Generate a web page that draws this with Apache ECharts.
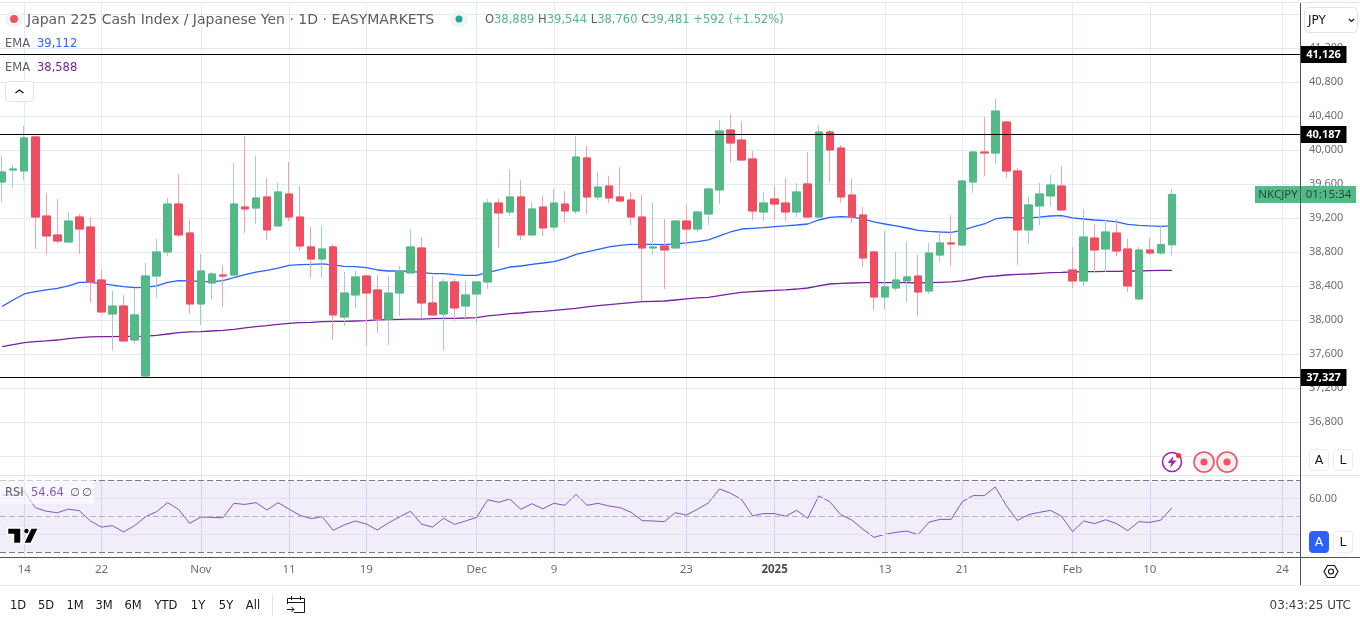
<!DOCTYPE html>
<html><head><meta charset="utf-8">
<style>html,body{margin:0;padding:0;background:#fff}#c{width:1360px;height:624px}</style>
<script src="https://cdn.jsdelivr.net/npm/echarts@6/dist/echarts.min.js"></script>
</head><body><div id="c"></div>
<script>
const opens=[39627,39768,39757,40157,39227,39004,38921,39215,39098,38474,
38074,38168,37768,37345,38521,38804,39368,39027,38192,38439,
38533,38533,39333,39321,39451,39110,39486,39215,38863,38721,
38863,38039,38298,38521,38357,38015,38321,38557,38851,38204,
38074,38451,38168,38310,38451,39380,39274,39451,39004,39333,
39098,39368,39286,39910,39451,39580,39451,39415,39215,38851,
38874,38851,39168,39074,39251,39533,40239,40121,39898,39274,
39427,39380,39274,39604,39215,40215,40027,39474,39239,38804,
38274,38380,38463,38521,38345,38768,38910,38886,39627,39980,
39968,40333,39757,39063,39345,39463,39580,38592,38463,38968,
38839,39027,38839,38251,38827,38792,38889];
const closes=[39745,39780,40145,39215,38992,38933,39168,39074,38451,38098,
38168,37757,38063,38521,38804,39368,39004,38192,38580,38545,
38521,39368,39310,39439,39063,39510,39215,38874,38721,38839,
38063,38321,38510,38321,38015,38321,38580,38863,38204,38063,
38451,38145,38298,38451,39380,39263,39451,39004,39310,39086,
39380,39286,39921,39451,39568,39439,39404,39215,38851,38863,
38827,39168,39074,39274,39545,40227,40086,39886,39286,39380,
39368,39274,39510,39215,40215,40004,39451,39215,38733,38274,
38392,38474,38510,38333,38792,38910,38898,39639,39980,39968,
40462,39757,39063,39357,39486,39592,39298,38463,38980,38827,
39039,38815,38404,38827,38792,38889,39481];
const lows=[39392,39557,39651,38839,38768,38910,38910,38780,38204,38090,
37639,37745,37721,37317,38263,38757,38980,38074,37945,38251,
38157,38498,39027,39133,38945,39105,39168,38815,38498,38498,
37768,37933,38145,37698,37851,37710,38051,38550,38027,38058,
37639,37992,38004,37957,38368,38851,39227,38945,39000,38992,
39063,39157,39251,39251,39415,39380,39392,39121,38227,38768,
38368,38845,38886,39039,39121,39368,39851,39880,39180,39168,
39180,39168,39215,39204,39210,39627,39380,39145,38627,38121,
38133,38345,38215,38051,38310,38686,38639,38880,39498,39698,
39839,39674,38651,38898,39121,39345,39286,38380,38404,38568,
38568,38757,38333,38245,38768,38768,38760];
const highs=[39933,39827,40286,40176,39498,39427,39274,39251,39215,38592,
38345,38298,38376,38674,38957,39439,39721,39180,38780,38568,
38651,39851,40168,39933,39674,39615,39863,39580,39098,39121,
38898,38568,38580,38530,38533,38521,38639,39074,38980,38521,
38486,38486,38463,38455,39427,39427,39780,39651,39392,39463,
39545,39521,40168,40051,39745,39698,39804,39510,39474,39380,
39192,39180,39357,39286,39568,40357,40427,40345,39992,39510,
39592,39674,39615,39980,40298,40239,40063,39663,39333,38810,
39051,38804,38933,38768,38910,39039,39239,39645,39992,40392,
40604,40345,39792,39451,39615,39710,39815,38863,39310,39133,
39180,39192,38957,38863,38968,39121,39544];
const emaFast=[38164,38239,38310,38337,38357,38376,38404,38447,38447,38431,
38415,38396,38384,38388,38404,38447,38466,38463,38459,38451,
38466,38502,38537,38568,38588,38615,38647,38655,38659,38663,
38651,38635,38631,38619,38592,38580,38580,38576,38564,38549,
38549,38537,38529,38529,38561,38592,38627,38639,38659,38674,
38690,38725,38776,38804,38835,38863,38882,38894,38894,38894,
38890,38898,38910,38925,38945,38992,39039,39074,39082,39090,
39102,39110,39121,39133,39180,39212,39219,39215,39192,39157,
39133,39110,39086,39059,39047,39039,39035,39059,39098,39133,
39192,39212,39204,39204,39215,39227,39231,39204,39192,39180,
39172,39157,39129,39117,39110,39106,39112];
const emaSlow=[37690,37714,37737,37749,37757,37768,37784,37796,37804,37808,
37808,37812,37812,37815,37823,37839,37855,37863,37866,37874,
37882,37894,37910,37925,37937,37953,37964,37972,37976,37984,
37988,37988,37992,37996,38004,38008,38012,38015,38015,38019,
38023,38023,38027,38031,38051,38063,38078,38086,38098,38106,
38117,38129,38141,38157,38172,38184,38196,38208,38219,38223,
38227,38239,38251,38263,38270,38290,38310,38329,38337,38345,
38353,38357,38368,38380,38404,38427,38435,38439,38443,38443,
38443,38443,38443,38439,38443,38447,38451,38463,38486,38510,
38521,38533,38541,38545,38553,38561,38564,38568,38572,38572,
38576,38576,38580,38580,38584,38588,38588];
const rsi=[61.8,61.8,64.0,54.8,52.8,52.0,54.0,53.1,47.4,44.0,
44.8,41.3,44.8,49.8,52.6,57.6,53.7,46.1,49.6,49.4,
49.2,57.2,56.6,57.6,53.5,57.6,54.0,50.5,48.7,49.8,
42.2,45.2,47.4,45.7,42.4,46.3,49.6,52.8,45.7,44.0,
48.9,45.5,47.4,49.4,59.2,57.8,59.6,53.9,57.0,54.2,
57.2,56.1,62.2,56.1,57.2,55.7,54.8,52.2,47.6,47.4,
47.0,52.0,50.7,53.9,57.4,65.2,62.8,59.4,50.3,51.5,
51.5,50.0,53.3,48.9,61.3,58.1,50.9,47.9,42.8,38.3,
40.0,41.1,41.8,39.8,46.8,48.3,48.3,58.1,61.5,61.5,
66.3,55.9,47.7,50.9,52.2,53.3,50.0,41.5,47.4,45.9,
48.1,45.9,42.0,47.0,46.6,47.9,54.64];
const tickLabels=['14','22','Nov','11','19','Dec','9','23','2025','13','21','Feb','10','24'];
const tickSlots=[2,9,18,26,33,43,50,62,70,80,87,97,104,116];
const levels=[41126,40187,37327];
const lastClose=39481;

const UI='"DejaVu Sans",sans-serif';
const NS='"Noto Sans",sans-serif';
const GREEN='#53b987',RED='#ee4e5f',GW='#a5cdcf',RW='#f5a3ae',GRID='#e1ecf2',AX='#6a6d78',TXT='#55585f';
const cats=new Array(117).fill('');tickSlots.forEach((s,k)=>cats[s]=tickLabels[k]);
const isTick=i=>tickSlots.includes(i);
const wickData=opens.map((o,i)=>[o,closes[i],lows[i],highs[i]]);
const bodyData=opens.map((o,i)=>[o,closes[i],Math.min(o,closes[i]),Math.max(o,closes[i])]);
const fmt=v=>Number(v).toLocaleString('en-US');

const box=(x,y,w,h,fill,stroke,r)=>({type:'rect',z:10,silent:true,shape:{x,y,width:w,height:h,r:r||0},style:{fill:fill||'none',stroke:stroke||'none',lineWidth:1}});
const line=(x1,y1,x2,y2,c,w)=>({type:'line',z:10,silent:true,shape:{x1,y1,x2,y2},style:{stroke:c,lineWidth:w||1}});
const txt=(x,y,t,font,fill,align,extra)=>({type:'text',z:11,silent:true,x,y,style:Object.assign({text:t,font:font||('12px '+UI),fill:fill||TXT,align:align||'left',verticalAlign:'middle'},extra||{})});
const circ=(cx,cy,r,fill,stroke,w)=>({type:'circle',z:10,silent:true,shape:{cx,cy,r},style:{fill:fill||'none',stroke:stroke||'none',lineWidth:w||1}});
const poly=(pts,fill,stroke,w)=>({type:'polygon',z:11,silent:true,shape:{points:pts},style:{fill:fill||'none',stroke:stroke||'none',lineWidth:w||1}});
const pline=(pts,stroke,w)=>({type:'polyline',z:11,silent:true,shape:{points:pts},style:{fill:'none',stroke,lineWidth:w||1}});

const chrome=[
 line(0,2.5,1360,2.5,'#e0e3eb'),
 line(0,475.5,1360,475.5,'#e0e3eb'),
 line(0,557.5,1360,557.5,'#50535e'),
 line(0,585.5,1360,585.5,'#e8eaee'),
 line(1300.5,3,1300.5,585,'#50535e'),
 // legend
 circ(14,19,8.5,'#f0f3fa'),circ(14,19,4,'#f7525f'),
 txt(27,20,'Japan 225 Cash Index / Japanese Yen · 1D · EASYMARKETS','14px '+UI,'#5a5d66'),
 circ(459,19,8.5,'#eef6f2'),circ(459,19,3.5,'#26a69a'),
 txt(485,20,'{d|O}{g|38,889} {d|H}{g|39,544} {d|L}{g|38,760} {d|C}{g|39,481} {g|+592 (+1.52%)}',null,null,'left',{rich:{d:{fill:'#5a5d66',font:'11.5px '+UI},g:{fill:'#53b987',font:'11.5px '+UI}}}),
 txt(5,44,'EMA','11.5px '+UI,'#5a5d66'),txt(37,44,'39,112','11.5px '+UI,'#2962ff'),
 txt(5,68,'EMA','11.5px '+UI,'#5a5d66'),txt(37,68,'38,588','11.5px '+UI,'#7b1fa2'),
 box(5.5,81.5,28,20,'#fff','#e0e3eb',3),
 pline([[15.5,93],[19.5,90],[23.5,93]],'#131722',1.4),
 // scale controls
 box(1304.5,7.5,53,25,'#fff','#e0e3eb',4),
 txt(1308,20.5,'JPY','12px '+UI,'#131722'),
 pline([[1349,19],[1351.5,21.5],[1354,19]],'#131722',1.2),
 // right-pane buttons
 box(1309.5,449.5,19,21,'#fff','#e9ecf2',3),txt(1319,461,'A','12.5px '+UI,'#131722','center'),
 box(1333.5,449.5,19,21,'#fff','#e9ecf2',3),txt(1343,461,'L','12.5px '+UI,'#131722','center'),
 box(1309.5,531.5,19,21,'#2962ff','#2962ff',3),txt(1319,543,'A','12.5px '+UI,'#fff','center'),
 box(1333.5,531.5,19,21,'#fff','#e9ecf2',3),txt(1343,543,'L','12.5px '+UI,'#131722','center'),
 poly([[1324,571.5],[1327.5,565.5],[1334.5,565.5],[1338,571.5],[1334.5,577.5],[1327.5,577.5]],'none','#131722',1.2),
 circ(1331,571.5,2.5,'none','#131722',1.2),
 // event icons
 circ(1172,462,9.5,'#fff','#9c27b0',1.6),
 poly([[1173.5,456],[1167.5,463],[1171.5,463],[1170,468],[1176.5,460.5],[1172.5,460.5]],'#9c27b0'),
 circ(1178.5,455.5,2.6,'#f7323f'),
 circ(1204,462,10,'#f0eff5','#f7525f',1.6),circ(1204,462,3.6,'#f7525f'),
 circ(1227,462,10,'#f0eff5','#f7525f',1.6),circ(1227,462,3.6,'#f7525f'),
 // RSI legend
 box(0,480,94,24,'rgba(255,255,255,0.6)'),
 txt(5,493,'RSI','11.5px '+UI,'#5a5d66'),txt(31,493,'54.64','11.5px '+UI,'#7e57c2'),
 txt(70,493,'∅','11.5px '+UI,'#5a5d66'),txt(82,493,'∅','11.5px '+UI,'#5a5d66'),
 // logo
 poly([[7.5,528],[21,528],[21,543.5],[13.5,543.5],[13.5,534.5],[7.5,534.5]],'#000','#fff',1.5),
 circ(26.5,531,2.8,'#000','#fff',1),
 poly([[31,528],[38.5,528],[31,543.5],[23.5,543.5]],'#000','#fff',1.5),
 // bottom bar
 txt(18,606,'1D','11.5px '+UI,'#131722','center'),txt(46,606,'5D','11.5px '+UI,'#131722','center'),
 txt(75,606,'1M','11.5px '+UI,'#131722','center'),txt(104,606,'3M','11.5px '+UI,'#131722','center'),
 txt(133,606,'6M','11.5px '+UI,'#131722','center'),txt(166,606,'YTD','11.5px '+UI,'#131722','center'),
 txt(198,606,'1Y','11.5px '+UI,'#131722','center'),txt(226,606,'5Y','11.5px '+UI,'#131722','center'),
 txt(253,606,'All','11.5px '+UI,'#131722','center'),
 line(272.5,594,272.5,616,'#e0e3eb'),
 pline([[287.5,604],[287.5,598.5],[304.5,598.5],[304.5,612.5],[294,612.5]],'#131722',1),
 line(287.5,602.5,304.5,602.5,'#131722'),line(291.5,596,291.5,600,'#131722'),line(300.5,596,300.5,600,'#131722'),
 pline([[287,609.5],[294,609.5]],'#131722',1),pline([[291.5,607],[294,609.5],[291.5,612]],'#131722',1),
 txt(1351,606,'03:43:25 UTC','12px '+UI,'#3c3f48','right'),
 txt(1309,498.5,'60.00','11px '+NS,AX)
];

const tag=(v,w,off,formatter,fill,rich)=>({coord:[1300,v],symbol:'rect',symbolSize:[w,17],symbolOffset:[off,0],
  itemStyle:{color:fill},label:{show:true,position:'inside',formatter,color:'#fff',fontFamily:NS,fontSize:11,fontWeight:'bold',rich}});

const option={
 animation:false,backgroundColor:'#fff',
 grid:[
  {left:0,width:1300,top:14.3,height:442},
  {left:2.165,width:1280.06,top:2.3,height:473},
  {left:2.165,width:1280.06,top:476,height:81},
  {left:0,width:1300,top:476,height:81}
 ],
 xAxis:[
  {gridIndex:0,type:'value',min:0,max:1300,show:false},
  {gridIndex:1,type:'category',boundaryGap:false,data:cats,axisLine:{show:false},axisTick:{show:false},axisLabel:{show:false},
   splitLine:{show:true,interval:i=>isTick(i),lineStyle:{color:GRID,width:1}}},
  {gridIndex:2,type:'category',boundaryGap:false,data:cats,axisLine:{show:false},axisTick:{show:false},
   axisLabel:{show:true,interval:i=>isTick(i),margin:7,color:AX,fontFamily:NS,fontSize:11.5,hideOverlap:false,
    formatter:v=>v==='2025'?'{b|2025}':v,rich:{b:{fontWeight:'bold',color:'#4a4d57',fontFamily:NS,fontSize:11.5}}},
   splitLine:{show:true,interval:i=>isTick(i),lineStyle:{color:'#dde6f2',width:1}}},
  {gridIndex:3,type:'value',min:0,max:1300,show:false}
 ],
 yAxis:[
  {gridIndex:0,type:'value',position:'right',min:36400,max:41600,interval:400,axisLine:{show:false},axisTick:{show:false},
   axisLabel:{margin:9,color:AX,fontFamily:NS,fontSize:11,formatter:v=>(v===36400||v===41600)?'':fmt(v)},
   splitLine:{show:true,lineStyle:{color:GRID,width:1}}},
  {gridIndex:1,type:'value',min:36176.5,max:41741.2,show:false,splitLine:{show:false}},
  {gridIndex:2,type:'value',min:27.39,max:72.39,show:false,splitLine:{show:false}},
  {gridIndex:3,type:'value',min:27.39,max:72.39,show:false,splitLine:{show:false}}
 ],
 graphic:{elements:chrome},
 series:[
  {type:'line',xAxisIndex:0,yAxisIndex:0,z:1,data:[],silent:true,
   markLine:{silent:true,symbol:'none',animation:false,label:{show:false},lineStyle:{color:'#000',width:1,type:'solid'},
    data:levels.map(v=>({yAxis:v}))},
   markPoint:{silent:true,animation:false,data:[
    ...levels.map(v=>tag(v,46,23.5,fmt(v),'#000')),
    tag(lastClose,101,5.5,'{a|NKCJPY}{b|01:15:34}',GREEN,{a:{width:46,color:'#1d4f38',fontFamily:NS,fontSize:11.5,fontWeight:'normal',align:'center'},b:{width:55,color:'#1d4f38',fontFamily:NS,fontSize:11.5,fontWeight:'normal',align:'center'}})
   ]}},
  {type:'line',name:'EMA fast',xAxisIndex:1,yAxisIndex:1,z:2,data:emaFast,showSymbol:false,symbol:'none',clip:false,lineStyle:{color:'#2962ff',width:1.3}},
  {type:'line',name:'EMA slow',xAxisIndex:1,yAxisIndex:1,z:2,data:emaSlow,showSymbol:false,symbol:'none',clip:false,lineStyle:{color:'#7b1fa2',width:1.3}},
  {type:'candlestick',xAxisIndex:1,yAxisIndex:1,z:3,clip:false,barWidth:8,data:wickData,
   itemStyle:{color:GREEN,color0:RED,borderColor:GW,borderColor0:RW,borderWidth:1}},
  {type:'candlestick',xAxisIndex:1,yAxisIndex:1,z:4,clip:false,barWidth:8,data:bodyData,
   itemStyle:{color:GREEN,color0:RED,borderColor:GREEN,borderColor0:RED,borderWidth:1}},
  {type:'line',xAxisIndex:3,yAxisIndex:3,z:1,data:[],silent:true,
   markArea:{silent:true,animation:false,itemStyle:{color:'rgba(126,87,194,0.1)'},data:[[{yAxis:30,x:0},{yAxis:70,x:1300}]]},
   markLine:{silent:true,symbol:'none',animation:false,label:{show:false},data:[
    {yAxis:70,lineStyle:{color:'#787b86',type:[6,3],width:1}},
    {yAxis:50,lineStyle:{color:'#b5b3bf',type:[6,3],width:1}},
    {yAxis:30,lineStyle:{color:'#787b86',type:[6,3],width:1}},
    {yAxis:60,lineStyle:{color:'#dce2f2',type:'solid',width:1}},
    {yAxis:40,lineStyle:{color:'#dce2f2',type:'solid',width:1}}
   ]}},
  {type:'line',name:'RSI',xAxisIndex:2,yAxisIndex:2,z:3,data:rsi,showSymbol:false,symbol:'none',clip:false,lineStyle:{color:'#7e57c2',width:1}}
 ]
};
echarts.init(document.getElementById('c'),null,{renderer:'canvas'}).setOption(option);
</script></body></html>
